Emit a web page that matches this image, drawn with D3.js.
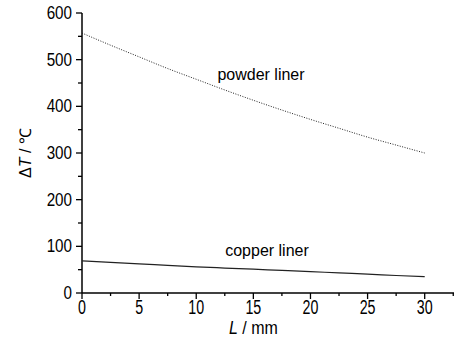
<!DOCTYPE html>
<html>
<head>
<meta charset="utf-8">
<script src="https://cdn.jsdelivr.net/npm/d3@7"></script>
<style>
  body { margin: 0; background: #fff; }
  svg { display: block; font-family: "Liberation Sans", Arial, sans-serif; }
</style>
</head>
<body>
<div id="chart"></div>
<script>
// data
var lengths = [0, 2.5, 5, 7.5, 10, 12.5, 15, 17.5, 20, 22.5, 25, 27.5, 30];
var powderLiner = [557, 531, 506, 481, 458, 435, 413, 392, 372, 353, 334, 317, 300];
var copperLiner = [69, 65.5, 62.5, 59, 56, 53.5, 51, 48.5, 46, 43, 40.5, 37.5, 35];
var xMajorTicks = [0, 5, 10, 15, 20, 25, 30];
var xMinorTicks = [2.5, 7.5, 12.5, 17.5, 22.5, 27.5, 32.5];
var yMajorTicks = [0, 100, 200, 300, 400, 500, 600];
var yMinorTicks = [50, 150, 250, 350, 450, 550];

var width = 454, height = 338;

var svg = d3.select("#chart").append("svg")
  .attr("width", width)
  .attr("height", height);

// set the ranges
var x = d3.scaleLinear().domain([0, 32.6]).range([82, 454.4]);
var y = d3.scaleLinear().domain([0, 600]).range([293, 13]);

// x axis
var xAxis = svg.append("g")
  .attr("transform", "translate(0," + y(0) + ")");
xAxis.append("line")
  .attr("x1", x(0)).attr("x2", width)
  .attr("stroke", "#000").attr("stroke-width", 1.5);
xAxis.selectAll(".xmaj").data(xMajorTicks).enter().append("line")
  .attr("x1", function (d) { return x(d); })
  .attr("x2", function (d) { return x(d); })
  .attr("y1", 0).attr("y2", 6)
  .attr("stroke", "#000").attr("stroke-width", 1.3);
xAxis.selectAll(".xmin").data(xMinorTicks).enter().append("line")
  .attr("x1", function (d) { return x(d); })
  .attr("x2", function (d) { return x(d); })
  .attr("y1", 0).attr("y2", 3)
  .attr("stroke", "#000").attr("stroke-width", 1.3);
xAxis.selectAll(".xlab").data(xMajorTicks).enter().append("text")
  .attr("transform", function (d) { return "translate(" + x(d) + ",21) scale(0.95,1.3)"; })
  .attr("text-anchor", "middle")
  .style("font-size", "15px")
  .text(function (d) { return d; });

// y axis
var yAxis = svg.append("g")
  .attr("transform", "translate(" + x(0) + ",0)");
yAxis.append("line")
  .attr("y1", y(0)).attr("y2", y(600))
  .attr("stroke", "#000").attr("stroke-width", 1.5);
yAxis.selectAll(".ymaj").data(yMajorTicks).enter().append("line")
  .attr("y1", function (d) { return y(d); })
  .attr("y2", function (d) { return y(d); })
  .attr("x1", 0).attr("x2", -6)
  .attr("stroke", "#000").attr("stroke-width", 1.3);
yAxis.selectAll(".ymin").data(yMinorTicks).enter().append("line")
  .attr("y1", function (d) { return y(d); })
  .attr("y2", function (d) { return y(d); })
  .attr("x1", 0).attr("x2", -4)
  .attr("stroke", "#000").attr("stroke-width", 1.3);
yAxis.selectAll(".ylab").data(yMajorTicks).enter().append("text")
  .attr("transform", function (d) { return "translate(-10," + (y(d) + 6) + ") scale(0.95,1.1)"; })
  .attr("text-anchor", "end")
  .style("font-size", "16px")
  .text(function (d) { return d; });

// axis titles
var yTitle = svg.append("text")
  .attr("transform", "translate(31," + y(300) + ") rotate(-90)")
  .attr("text-anchor", "middle")
  .style("font-size", "16px");
yTitle.append("tspan").text("\u0394");
yTitle.append("tspan").style("font-style", "italic").text("T");
yTitle.append("tspan").text(" / \u2103");

var xTitle = svg.append("text")
  .attr("transform", "translate(" + x(15) + ",334) scale(1,1.15)")
  .attr("text-anchor", "middle")
  .style("font-size", "16px");
xTitle.append("tspan").style("font-style", "italic").text("L");
xTitle.append("tspan").text(" / mm");

// define the line
var line = d3.line()
  .x(function (d) { return x(d[0]); })
  .y(function (d) { return y(d[1]); })
  .curve(d3.curveMonotoneX);

svg.append("path")
  .attr("d", line(d3.zip(lengths, powderLiner)))
  .style("fill", "none")
  .style("stroke", "#222")
  .style("stroke-width", 1)
  .style("stroke-dasharray", "1,1.5");

svg.append("path")
  .attr("d", line(d3.zip(lengths, copperLiner)))
  .style("fill", "none")
  .style("stroke", "#222")
  .style("stroke-width", 1.2);

// series labels
svg.append("text")
  .attr("x", 261).attr("y", 80)
  .attr("text-anchor", "middle")
  .style("font-size", "16px")
  .text("powder liner");

svg.append("text")
  .attr("x", 267).attr("y", 256)
  .attr("text-anchor", "middle")
  .style("font-size", "16px")
  .text("copper liner");
</script>
</body>
</html>
